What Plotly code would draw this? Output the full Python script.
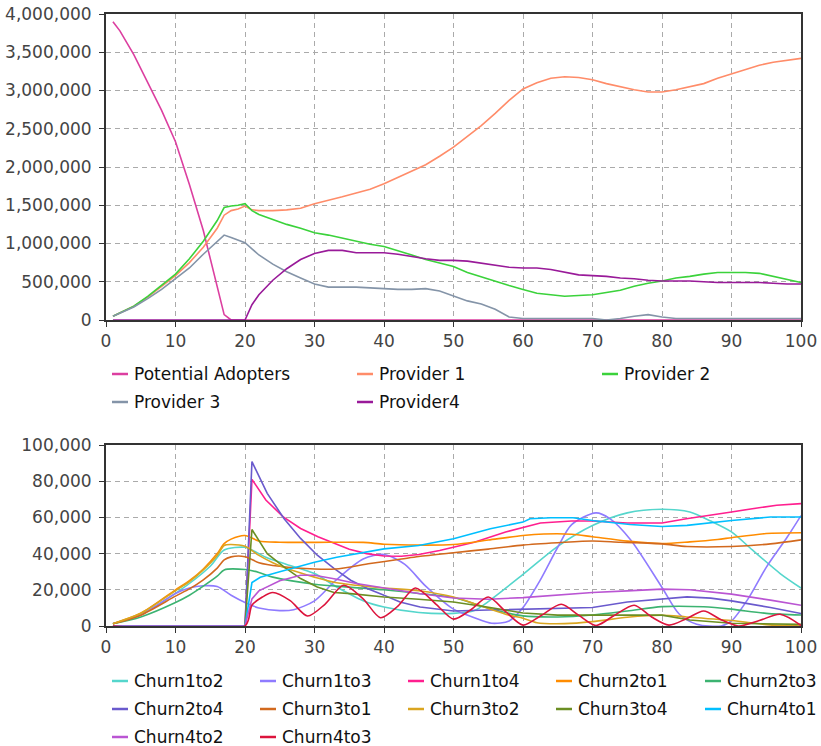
import plotly.graph_objects as go

# ---------------- data: top chart (values in millions) ----------------
T_TOP = [1, 2, 4, 6, 8, 10, 12, 14, 16, 17, 18, 19, 20, 21, 22,
         24, 26, 28, 30, 32, 34, 36, 38, 40, 42, 44, 46, 48, 50, 52, 54, 56, 58, 60,
         62, 64, 66, 68, 70, 72, 74, 76, 78, 80, 82, 84, 86, 88, 90, 92, 94, 96, 98, 100]

POTENTIAL_ADOPTERS = [3.9, 3.78, 3.47, 3.11, 2.74, 2.33, 1.77, 1.17, 0.44, 0.07, 0, 0, 0, 0, 0,
                      0, 0, 0, 0, 0, 0, 0, 0, 0, 0, 0, 0, 0, 0, 0, 0, 0, 0, 0,
                      0, 0, 0, 0, 0, 0, 0, 0, 0, 0, 0, 0, 0, 0, 0, 0, 0, 0, 0, 0]
PROVIDER_1 = [0.05, 0.09, 0.18, 0.30, 0.44, 0.58, 0.75, 0.95, 1.20, 1.37, 1.43, 1.45, 1.49, 1.44, 1.43,
              1.43, 1.44, 1.46, 1.52, 1.56, 1.61, 1.66, 1.71, 1.78, 1.86, 1.94, 2.03, 2.14, 2.26, 2.40,
              2.54, 2.70, 2.87, 3.02, 3.10, 3.16, 3.18, 3.17, 3.14, 3.09, 3.05, 3.01, 2.98, 2.98, 3.01,
              3.05, 3.09, 3.16, 3.22, 3.28, 3.33, 3.37, 3.40, 3.42]
PROVIDER_2 = [0.05, 0.09, 0.18, 0.31, 0.45, 0.60, 0.80, 1.03, 1.30, 1.47, 1.49, 1.50, 1.52, 1.43, 1.38,
              1.31, 1.25, 1.20, 1.14, 1.11, 1.07, 1.03, 0.99, 0.96, 0.91, 0.85, 0.79, 0.74, 0.70, 0.62,
              0.56, 0.50, 0.45, 0.40, 0.35, 0.33, 0.31, 0.32, 0.33, 0.36, 0.39, 0.44, 0.48, 0.51, 0.55,
              0.57, 0.60, 0.62, 0.62, 0.62, 0.61, 0.57, 0.53, 0.49]
PROVIDER_3 = [0.05, 0.09, 0.17, 0.28, 0.40, 0.54, 0.68, 0.86, 1.02, 1.11, 1.08, 1.05, 1.01, 0.93, 0.85,
              0.73, 0.63, 0.55, 0.47, 0.43, 0.43, 0.43, 0.42, 0.41, 0.40, 0.40, 0.41, 0.38, 0.31, 0.25,
              0.21, 0.14, 0.04, 0.02, 0.02, 0.02, 0.02, 0.02, 0.02, 0.0, 0.02, 0.05, 0.07, 0.04, 0.02,
              0.02, 0.02, 0.02, 0.02, 0.02, 0.02, 0.02, 0.02, 0.02]
PROVIDER_4 = [0, 0, 0, 0, 0, 0, 0, 0, 0, 0, 0, 0, 0, 0.20, 0.33,
              0.52, 0.67, 0.79, 0.87, 0.91, 0.91, 0.88, 0.88, 0.88, 0.86, 0.83, 0.80, 0.78, 0.78, 0.77,
              0.74, 0.71, 0.69, 0.68, 0.68, 0.66, 0.62, 0.59, 0.58, 0.57, 0.55, 0.54, 0.52, 0.51, 0.51,
              0.51, 0.50, 0.49, 0.49, 0.49, 0.49, 0.48, 0.47, 0.47]

TOP_NAMES = ["Potential Adopters", "Provider 1", "Provider 2", "Provider 3", "Provider4"]
TOP_SERIES = [POTENTIAL_ADOPTERS, PROVIDER_1, PROVIDER_2, PROVIDER_3, PROVIDER_4]
TOP_COLORS = ["#DC3FA0", "#FF8C69", "#3BD23B", "#8494A8", "#991A99"]

# ---------------- data: bottom chart (values in thousands) ----------------
C12_T = [1, 5, 10, 15, 17, 20, 21, 23, 26, 30, 33, 37, 40, 45, 50, 53, 55, 60, 65, 70, 75, 80, 84, 87, 90, 93, 97, 100]
C12_V = [1.3, 6.5, 18, 33, 42, 43.5, 42, 38, 34, 29, 22, 14, 10.5, 7.5, 7, 8.5, 13.5, 28.5, 44, 55.5, 62.5, 64.5, 63, 58, 52, 42, 29, 21]

C13_T = [1, 5, 10, 12, 14, 16, 18, 20, 22, 25, 27, 30, 33, 37, 40, 43, 46, 50, 53, 55.5, 58, 60, 62.5, 65, 67, 70.5, 72.5, 75.5, 80, 82.5, 85, 88.5, 90, 92.5, 95, 98, 100]
C13_V = [1.3, 6, 18, 21, 22.2, 21.8, 17, 13, 10, 8.5, 9, 13.9, 25, 37, 39.5, 34, 22, 9.3, 4.6, 1.5, 2.8, 10.2, 25.5, 43.5, 56, 62.5, 59.3, 47.5, 21.3, 6.5, 1, 0, 2.8, 15.7, 32.4, 49, 61]

C14_T = [1, 20, 21, 23, 25.5, 28, 30.5, 33, 35, 37.5, 40, 42.5, 45, 48, 50, 53, 57.5, 60, 62.5, 67, 70, 75, 80, 83.5, 87, 90, 93, 96.5, 100]
C14_V = [0, 0, 81, 69.6, 60.3, 53.9, 49.3, 45.6, 42.4, 40, 38.7, 38.5, 39.5, 41.7, 43.5, 46.3, 51.9, 54.3, 56.9, 58, 58, 56.9, 56.9, 59.3, 61.1, 63, 64.8, 66.7, 67.6]

C21_T = [1, 5, 10, 12, 14, 16, 17, 18, 20, 22, 25, 30, 37, 40, 45, 50, 55, 60, 63, 67, 70, 75, 80, 84, 88, 90, 95, 100]
C21_V = [1.3, 7, 20, 25, 31.5, 40, 45.5, 48, 50, 47, 46.3, 46.2, 46.2, 45.2, 44.7, 45, 47.5, 50, 50.8, 50.7, 49.3, 46.9, 45.6, 46.5, 47.8, 48.8, 51.1, 51.5]

C23_T = [1, 5, 10, 12, 14, 16, 17, 20, 22, 24, 30, 35, 40, 45, 50, 55, 60, 65, 70, 75, 80, 86, 90, 95, 100]
C23_V = [1.2, 5, 13, 17, 22, 27.5, 31, 31.2, 29.6, 27, 23.1, 21.5, 20, 18, 15.7, 9.8, 5.6, 5, 6.1, 8.3, 10.7, 10.6, 9.3, 7, 6.1]

C24_T = [1, 20, 21, 23.2, 25.6, 28, 30.4, 32.8, 35.2, 37.6, 40, 42.3, 45.2, 50, 55, 60, 65, 70, 75, 80, 83.6, 87, 90, 95.6, 100]
C24_V = [0, 0, 90.8, 73.3, 59.4, 48.4, 39.1, 31.8, 25.3, 20.7, 17, 13.3, 10.5, 8.3, 8.8, 9.3, 9.6, 10.2, 13.3, 14.8, 16.1, 15.4, 13.9, 10.2, 6.9]

C31_T = [1, 5, 10, 12, 14, 16, 17, 18, 20, 22, 25, 30, 33, 38, 42.5, 45, 50, 55, 60, 65, 70, 74, 80, 83.6, 90, 95.6, 100]
C31_V = [1.2, 6, 16.5, 20.5, 25.5, 32, 36.5, 38.2, 38.3, 35, 33, 31.5, 31.5, 34.5, 37, 38.4, 40.5, 42.5, 44.7, 46, 47, 46.3, 45.4, 43.9, 43.9, 45.4, 47.6]

C32_T = [1, 5, 10, 12, 14, 16, 17, 18, 20, 22, 24, 27, 30, 33, 36, 40, 45, 50, 54, 58, 60, 62, 66, 70, 75, 80, 83.5, 90, 95.5, 100]
C32_V = [1.3, 7, 19.5, 24.5, 31, 39, 44.5, 45, 44, 39, 35, 30.5, 27, 24, 22.5, 21, 19.5, 16, 11, 6, 4.3, 1.8, 1.3, 2.4, 4.8, 5.9, 5, 3, 0.6, 0]

C34_T = [1, 20, 21, 23.2, 25.6, 28, 30.4, 32.8, 35.2, 40, 45, 50, 54.8, 60, 65, 70, 76, 80, 84, 90, 100]
C34_V = [0, 0, 53.3, 40, 32.7, 26.2, 21.6, 18.5, 17.9, 16, 14.8, 13.3, 10.5, 7.2, 6, 6, 6.3, 6, 3.3, 1.5, 0.9]

C41_T = [1, 20, 21, 22.2, 25, 30, 33.2, 40, 45, 50, 55.3, 60, 61, 64, 67.2, 70, 75.4, 80, 83.6, 90, 95.6, 100]
C41_V = [0, 0, 24, 26.9, 30, 35.2, 38, 42.6, 44.5, 48.2, 53.7, 57.4, 59.3, 59.8, 59.8, 58.3, 56.1, 55, 55.6, 58.3, 60.2, 60.2]

C42_T = [1, 20, 21, 22, 25, 28, 30, 33, 36, 40, 45, 50, 55, 60, 65, 70, 75, 80, 84, 90, 95.6, 100]
C42_V = [0, 0, 15, 19.4, 25, 28, 28, 26, 23.5, 21, 18, 15.5, 14.8, 15.7, 17.2, 18.5, 19.4, 20.4, 20, 17.6, 14.3, 11.5]

C43_T = [1, 20, 21, 22.5, 24, 26.5, 29, 31.5, 34.2, 37, 39.5, 42, 44.5, 47.5, 50, 52.5, 55, 57.5, 60, 62.5, 65.5,
         68, 70.5, 73, 76, 78.5, 81, 83.5, 86, 88.5, 91, 94, 97, 100]
C43_V = [0, 0, 11.5, 16, 18.5, 14, 5.5, 12, 22.5, 15, 4.6, 11, 21, 12, 3.8, 9, 16, 8, 0.5, 5.5, 12,
         6, 0.3, 5.5, 11.5, 5, 0.5, 4, 8.3, 3.5, 0, 3, 6.5, 0.3]

BOT_NAMES = ["Churn1to2", "Churn1to3", "Churn1to4", "Churn2to1", "Churn2to3", "Churn2to4",
             "Churn3to1", "Churn3to2", "Churn3to4", "Churn4to1", "Churn4to2", "Churn4to3"]
BOT_T = [C12_T, C13_T, C14_T, C21_T, C23_T, C24_T, C31_T, C32_T, C34_T, C41_T, C42_T, C43_T]
BOT_V = [C12_V, C13_V, C14_V, C21_V, C23_V, C24_V, C31_V, C32_V, C34_V, C41_V, C42_V, C43_V]
BOT_COLORS = ["#55D6CC", "#8F7BFF", "#FF1F8F", "#FF8C00", "#3CB371", "#6A5ACD",
              "#D2691E", "#DAA520", "#6B8E23", "#00BFFF", "#BA55D3", "#DC143C"]
BOT_SHAPES = ["spline", "spline", "linear", "spline", "spline", "linear",
              "spline", "spline", "linear", "linear", "linear", "spline"]

# ---------------- figure ----------------
W, H = 821, 746
fig = go.Figure()

for name, vals, col in zip(TOP_NAMES, TOP_SERIES, TOP_COLORS):
    fig.add_trace(go.Scatter(x=T_TOP, y=[v * 1e6 for v in vals], name=name, mode="lines",
                             line=dict(color=col, width=1.6), showlegend=False,
                             xaxis="x", yaxis="y", hoverinfo="x+y+name"))

for name, t, vals, col, shp in zip(BOT_NAMES, BOT_T, BOT_V, BOT_COLORS, BOT_SHAPES):
    fig.add_trace(go.Scatter(x=t, y=[v * 1e3 for v in vals], name=name, mode="lines",
                             line=dict(color=col, width=1.6, shape=shp, smoothing=0.8),
                             showlegend=False, xaxis="x2", yaxis="y2", hoverinfo="x+y+name"))

FONT = "DejaVu Sans"
axis_common = dict(showline=True, linecolor="#333333", linewidth=2, mirror=True,
                   ticks="outside", ticklen=5, tickcolor="#333333",
                   showgrid=True, gridcolor="#AAAAAA", griddash="5px,4px", gridwidth=1,
                   zeroline=False, automargin=False, layer="above traces",
                   tickfont=dict(family=FONT, size=17, color="#444444"))

x_dom = [106 / W, 801 / W]
fig.update_layout(
    width=W, height=H, margin=dict(l=0, r=0, t=0, b=0, autoexpand=False),
    paper_bgcolor="white", plot_bgcolor="white",
    font=dict(family=FONT),
    showlegend=False,
    xaxis=dict(domain=x_dom, anchor="y", range=[0, 100], dtick=10, tick0=0, **axis_common),
    yaxis=dict(domain=[1 - 320 / H, 1 - 14 / H], anchor="x", range=[0, 4000000], dtick=500000,
               tickformat=",d", ticklabelstandoff=4, **axis_common),
    xaxis2=dict(domain=x_dom, anchor="y2", range=[0, 100], dtick=10, tick0=0, **axis_common),
    yaxis2=dict(domain=[1 - 626 / H, 1 - 445 / H], anchor="x2", range=[0, 100000], dtick=20000,
                tickformat=",d", ticklabelstandoff=4, **axis_common),
)

# ---------------- manual legends ----------------
def add_legend(names, colors, col_x, row_y):
    ncol = len(col_x)
    for i, (nm, c) in enumerate(zip(names, colors)):
        x0 = col_x[i % ncol]
        y = row_y[i // ncol]
        fig.add_shape(type="line", xref="paper", yref="paper",
                      x0=x0 / W, x1=(x0 + 16) / W, y0=1 - y / H, y1=1 - y / H,
                      line=dict(color=c, width=2.5))
        fig.add_annotation(x=(x0 + 20) / W, y=1 - y / H, xref="paper", yref="paper",
                           text=nm, showarrow=False, xanchor="left", yanchor="middle",
                           font=dict(family=FONT, size=17, color="#111111"))

add_legend(TOP_NAMES, TOP_COLORS, [112, 357, 602], [374, 402])
add_legend(BOT_NAMES, BOT_COLORS, [112, 260, 408, 556, 705], [681, 709, 737])

fig.write_html("out.html")
